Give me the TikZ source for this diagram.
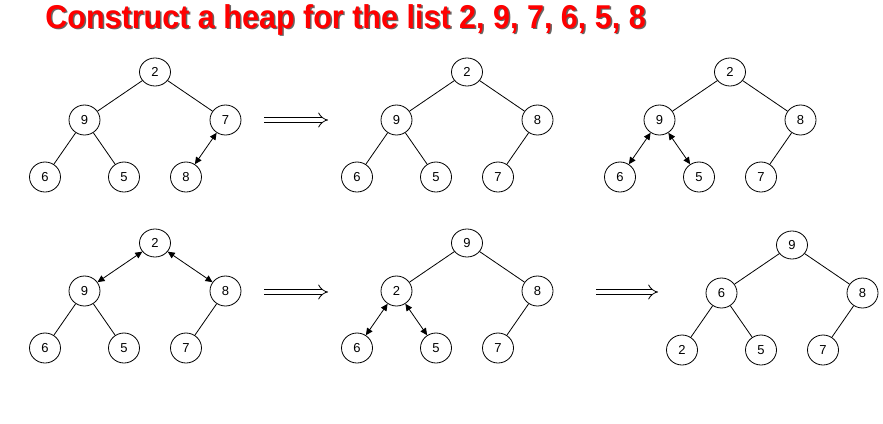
\documentclass[tikz,border=0pt]{standalone}
\usepackage{fontspec}
\setmainfont{Liberation Sans}
\usetikzlibrary{shapes.geometric,arrows.meta}
\begin{document}
\begin{tikzpicture}[x=1pt,y=1pt,line width=0.8pt,
	level 1/.style={sibling distance=141pt,level distance=48pt},
	level 2/.style={sibling distance=79pt,level distance=57pt},
	every child node/.style=hnode]
		\tikzstyle{hnode}=[ellipse,draw=black,line width=0.8pt,minimum width=31pt,minimum height=30pt,inner sep=0pt,font=\fontsize{13}{13}\selectfont];
		\tikzstyle{swapedge}=[{Triangle[length=7pt,width=6.5pt]}-{Triangle[length=7pt,width=6.5pt]}];
		\tikzstyle{nextstep}=[line width=0.8pt,double=white,double distance=4.5pt,-{Implies}];
		\tikzstyle{heading}=[anchor=base west,inner sep=0pt,xscale=0.925,transform shape,font=\fontsize{33}{33}\selectfont\bfseries];
		\useasboundingbox (0,0) rectangle (883,-423);
		% title
		\node[heading,text=black!60] (titleshadow) at (46.5,-29.5) {Construct a heap for the list 2, 9, 7, 6, 5, 8};
		\node[heading,text=red] (title) at (45,-28) {Construct a heap for the list 2, 9, 7, 6, 5, 8};
		% first row
		\node[hnode,minimum height=28pt] (a2) at (155,-72) {2}
			child { node (a9) {9}
				child { node (a6) {6}}
				child { node (a5) {5}}
				}
			child { node (a7) {7}
				child { node (a8) {8} edge from parent[swapedge]}
				child[missing]
				};
		\node[hnode,minimum height=28pt] (b2) at (467,-72) {2}
			child { node (b9) {9}
				child { node (b6) {6}}
				child { node (b5) {5}}
				}
			child { node (b8) {8}
				child { node (b7) {7}}
				child[missing]
				};
		\node[hnode,minimum height=28pt] (c2) at (730,-72) {2}
			child { node (c9) {9}
				child { node (c6) {6} edge from parent[swapedge]}
				child { node (c5) {5} edge from parent[swapedge]}
				}
			child { node (c8) {8}
				child { node (c7) {7}}
				child[missing]
				};
		% second row
		\node[hnode,minimum height=28pt] (d2) at (155,-243) {2}
			child { node (d9) {9}
				child { node (d6) {6}}
				child { node (d5) {5}}
				edge from parent[swapedge]}
			child { node (d8) {8}
				child { node (d7) {7}}
				child[missing]
				edge from parent[swapedge]};
		\node[hnode,minimum height=28pt] (e9) at (467,-243) {9}
			child { node (e2) {2}
				child { node (e6) {6} edge from parent[swapedge]}
				child { node (e5) {5} edge from parent[swapedge]}
				}
			child { node (e8) {8}
				child { node (e7) {7}}
				child[missing]
				};
		\node[hnode,minimum height=28pt] (f9) at (792,-245) {9}
			child { node (f6) {6}
				child { node (f2) {2}}
				child { node (f5) {5}}
				}
			child { node (f8) {8}
				child { node (f7) {7}}
				child[missing]
				};
		% steps
		\coordinate (s1) at (264,-120);
		\coordinate (t1) at (328,-120);
		\coordinate (s2) at (264,-292);
		\coordinate (t2) at (328,-292);
		\coordinate (s3) at (596,-292);
		\coordinate (t3) at (658,-292);
		\draw[nextstep] (s1) -- (t1);
		\draw[nextstep] (s2) -- (t2);
		\draw[nextstep] (s3) -- (t3);
\end{tikzpicture}
\end{document}
